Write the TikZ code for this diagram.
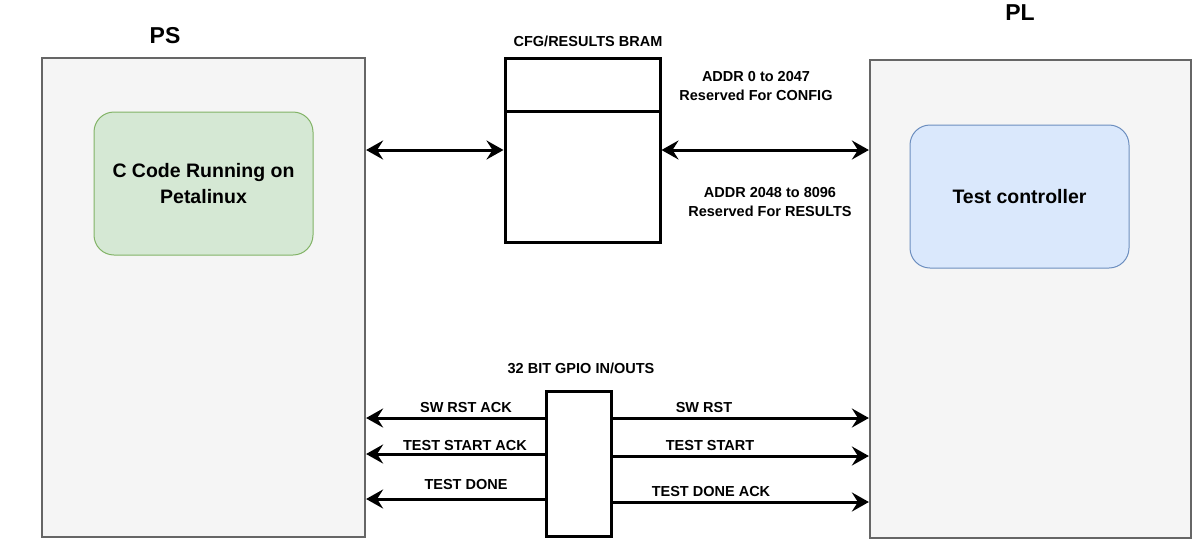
\documentclass[tikz,border=0pt]{standalone}
\usepackage{fontspec}
\setmainfont{Liberation Sans}
\usetikzlibrary{arrows.meta}
\definecolor{outerfill}{HTML}{F5F5F5}
\definecolor{outerdraw}{HTML}{666666}
\definecolor{greenfill}{HTML}{D5E8D4}
\definecolor{greendraw}{HTML}{82B366}
\definecolor{bluefill}{HTML}{DAE8FC}
\definecolor{bluedraw}{HTML}{6C8EBF}
\tikzset{
  outer/.style={draw=outerdraw, fill=outerfill, line width=2.2pt, inner sep=0pt},
  inner/.style={rounded corners=20pt, line width=1pt, inner sep=0pt, minimum width=219pt, minimum height=143pt, align=center, font=\fontsize{19.5}{26}\selectfont\bfseries},
  blk/.style={draw=black, fill=white, line width=3pt, inner sep=0pt},
  big/.style={font=\fontsize{23}{26}\selectfont\bfseries},
  small/.style={font=\fontsize{14.5}{19}\selectfont\bfseries, align=center, inner sep=0pt},
  tipx/.tip={Stealth[length=17pt,width=19pt,inset=6pt]},
  arr/.style={line width=3pt, -tipx},
  arrb/.style={line width=3pt, tipx-tipx},
}
\begin{document}
\begin{tikzpicture}[x=1pt,y=-1pt]
\useasboundingbox (0,0) rectangle (1192,539);
% outer boxes
\node[outer, minimum width=323pt, minimum height=479pt] (ps) at (203.5,297.5) {};
\node[outer, minimum width=321pt, minimum height=478pt] (pl) at (1030.5,299) {};
\node[big] (pslbl) at (165,36) {PS};
\node[big] (pllbl) at (1020,13) {PL};
% inner boxes
\node[inner, draw=greendraw, fill=greenfill] (ccode) at (203.5,183.5) {C Code Running on\\Petalinux};
\node[inner, draw=bluedraw, fill=bluefill] (tctrl) at (1019.5,196.5) {Test controller};
% BRAM
\node[blk, minimum width=155pt, minimum height=184pt] (bram) at (582.5,150) {};
\coordinate (bdivl) at (505,111);
\coordinate (bdivr) at (660,111);
\draw[line width=3pt] (bdivl) -- (bdivr);
\node[small] (bramlbl) at (588,41) {CFG/RESULTS BRAM};
\node[small] (cfglbl) at (756,86.5) {ADDR 0 to 2047\\Reserved For CONFIG};
\node[small] (reslbl) at (770,202.5) {ADDR 2048 to 8096\\Reserved For RESULTS};
\draw[arrb] (ps.east |- bram.west) -- (bram.west);
\draw[arrb] (bram.east) -- (pl.west |- bram.east);
% GPIO
\node[blk, minimum width=65pt, minimum height=145pt] (gpio) at (578.5,463.5) {};
\node[small] (gpiolbl) at (581,368) {32 BIT GPIO IN/OUTS};
\draw[arr] (gpio.west |- 0,418) -- (ps.east |- 0,418);
\draw[arr] (gpio.west |- 0,454) -- (ps.east |- 0,454);
\draw[arr] (gpio.west |- 0,499) -- (ps.east |- 0,499);
\draw[arr] (gpio.east |- 0,418) -- (pl.west |- 0,418);
\draw[arr] (gpio.east |- 0,456) -- (pl.west |- 0,456);
\draw[arr] (gpio.east |- 0,502) -- (pl.west |- 0,502);
\node[small] (l1) at (466,407) {SW RST ACK};
\node[small] (l2) at (465,446) {TEST START ACK};
\node[small] (l3) at (466,484) {TEST DONE};
\node[small] (r1) at (704,407) {SW RST};
\node[small] (r2) at (710,446) {TEST START};
\node[small] (r3) at (711,491) {TEST DONE ACK};
\end{tikzpicture}
\end{document}
